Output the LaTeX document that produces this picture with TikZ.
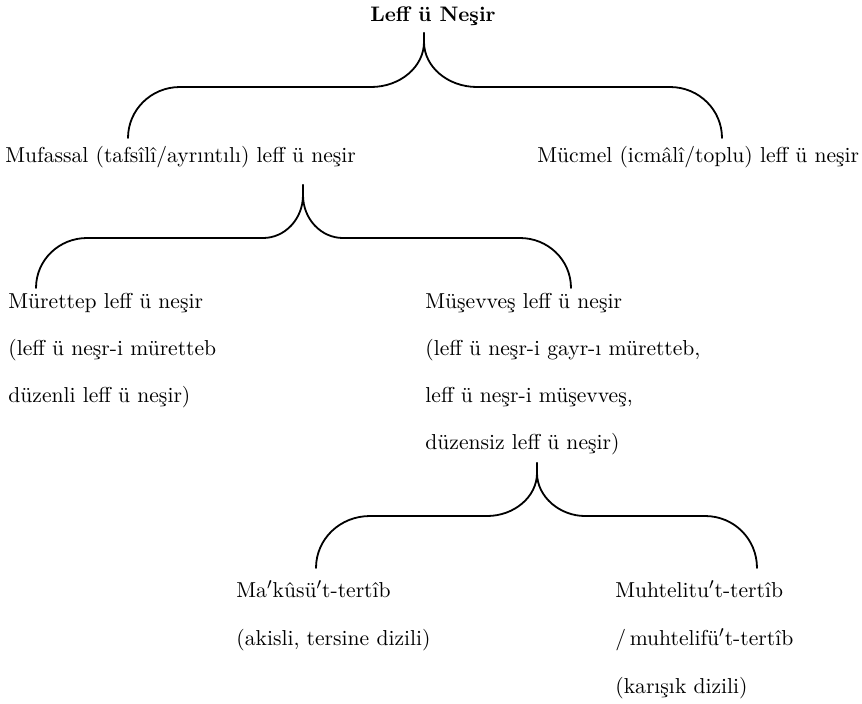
\documentclass[tikz,border=0pt]{standalone}
\usepackage{fontspec}

\begin{document}
\begin{tikzpicture}[x=0.5pt,y=-0.5pt,
  lbl/.style={anchor=base west,inner sep=0pt,font=\fontsize{10.8}{13}\selectfont},
  ttl/.style={anchor=base,inner sep=0pt,font=\fontsize{10.5}{13}\selectfont\bfseries},
  bracepath/.style={line width=0.9pt,line cap=round}]
\useasboundingbox (0,0) rectangle (862,703);
% title and first split
\node[ttl] (leff) at (433,21) {Leff ü Neşir};
\node[lbl] (mufassal) at (5,162) {Mufassal (tafsîlî/ayrıntılı) leff ü neşir};
\node[lbl] (mucmel) at (537,162) {Mücmel (icmâlî/toplu) leff ü neşir};
\coordinate (b1tip) at (424,33);
\coordinate (b1l) at (128,138);
\coordinate (b1r) at (722,138);
\draw[bracepath] (b1tip) -- (424,42) .. controls (424,67) and (400,87) .. (371,87) -- (180,87)
  .. controls (151,87) and (128,110) .. (b1l);
\draw[bracepath] (b1tip) -- (424,42) .. controls (424,67) and (448,87) .. (477,87) -- (670,87)
  .. controls (699,87) and (722,110) .. (b1r);
% mufassal
\node[lbl] (murettep1) at (8,308) {Mürettep leff ü neşir};
\node[lbl] (murettep2) at (8,355) {(leff ü neşr-i müretteb};
\node[lbl] (murettep3) at (8,402) {düzenli leff ü neşir)};
\node[lbl] (musevves1) at (425,308) {Müşevveş leff ü neşir};
\node[lbl] (musevves2) at (425,355) {(leff ü neşr-i gayr-ı müretteb,};
\node[lbl] (musevves3) at (425,402) {leff ü neşr-i müşevveş,};
\node[lbl] (musevves4) at (425,449) {düzensiz leff ü neşir)};
\coordinate (b2tip) at (303,185);
\coordinate (b2l) at (36,288);
\coordinate (b2r) at (571,288);
\draw[bracepath] (b2tip) -- (303,195) .. controls (303,219) and (285,238) .. (263,238) -- (87,238)
  .. controls (59,238) and (36,260) .. (b2l);
\draw[bracepath] (b2tip) -- (303,195) .. controls (303,219) and (321,238) .. (343,238) -- (520,238)
  .. controls (548,238) and (571,260) .. (b2r);
% musevves
\node[lbl] (makusu1) at (236,597) {Ma$'$kûsü$'$t-tertîb};
\node[lbl] (makusu2) at (236,645) {(akisli, tersine dizili)};
\node[lbl] (muhtelit1) at (615,597) {Muhtelitu$'$t-tertîb};
\node[lbl] (muhtelit2) at (615,645) {/\,muhtelifü$'$t-tertîb};
\node[lbl] (muhtelit3) at (615,693) {(karışık dizili)};
\coordinate (b3tip) at (537,463);
\coordinate (b3l) at (316,568);
\coordinate (b3r) at (757,568);
\draw[bracepath] (b3tip) -- (537,473) .. controls (537,497) and (514,516) .. (487,516) -- (370,516)
  .. controls (340,516) and (316,539) .. (b3l);
\draw[bracepath] (b3tip) -- (537,473) .. controls (537,497) and (560,516) .. (585,516) -- (705,516)
  .. controls (734,516) and (757,539) .. (b3r);
\end{tikzpicture}
\end{document}
